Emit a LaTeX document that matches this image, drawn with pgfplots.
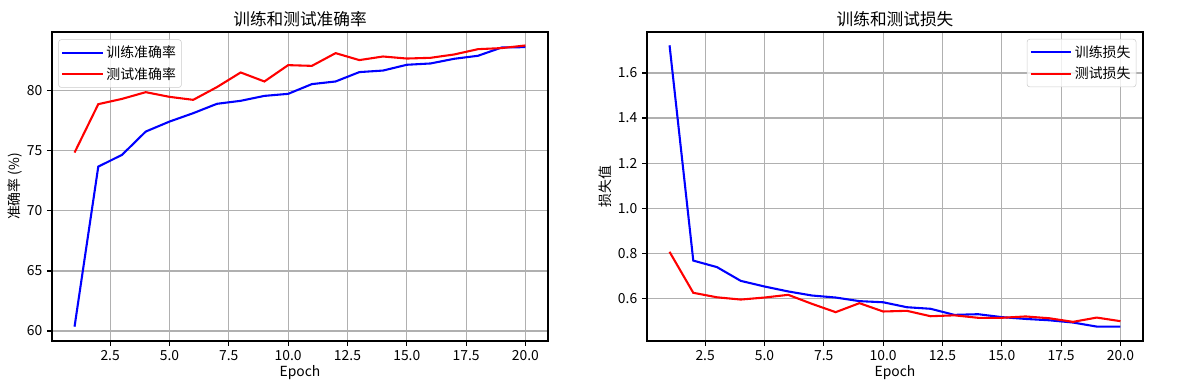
\documentclass[border=0pt]{standalone}
\usepackage{fontspec}
\setmainfont{Noto Sans CJK SC}
\usepackage{pgfplots}
\pgfplotsset{compat=1.18}
\definecolor{gridgray}{RGB}{176,176,176}
\definecolor{legframe}{RGB}{204,204,204}
\pgfplotsset{
  mystyle/.style={
    scale only axis, width=357.12pt, height=222.48pt,
    axis line style={line width=0.8pt},
    grid=major, grid style={color=gridgray, line width=0.8pt},
    tick style={black, line width=0.8pt}, tick align=outside, major tick length=3.5pt,
    tick pos=left,
    xmin=0.05, xmax=20.95,
    xtick={2.5,5,7.5,10,12.5,15,17.5,20},
    xticklabel style={/pgf/number format/.cd, fixed, fixed zerofill, precision=1},
    /pgf/number format/assume math mode=true,
    ticklabel style={font=\fontsize{10}{12}\selectfont},
    label style={font=\fontsize{10}{12}\selectfont},
    every axis title shift=0pt,
    title style={font=\fontsize{12}{14}\selectfont, at={(axis description cs:0.5,1)}, anchor=center, yshift=9.6pt},
    xlabel style={at={(axis description cs:0.5,-0.1034)}, anchor=center},
    legend cell align=left,
    legend style={draw=legframe, rounded corners=2pt, fill=white, fill opacity=0.8, text opacity=1,
      font=\fontsize{10}{12}\selectfont, inner xsep=2pt, inner ysep=2.5pt, row sep=1.5pt},
    legend image code/.code={\path (-1pt,0pt) -- (28pt,0pt); \draw[#1] (0pt,0pt) -- (21pt,0pt);},
    xlabel=Epoch,
    every axis plot/.append style={line width=1.5pt},
  }
}
\begin{document}
\begin{tikzpicture}
\path[use as bounding box] (0,0) rectangle (856.08pt,280.8pt);
\begin{axis}[mystyle, at={(37.44pt,35.28pt)}, anchor=south west,
  title={训练和测试准确率}, ylabel={准确率 (\%)},
  ylabel style={at={(axis description cs:-0.0746,0.5)}, anchor=center},
  ymin=59.17, ymax=84.9, ytick={60,65,70,75,80},
  legend style={at={(0,1)}, anchor=north west, xshift=4.5pt, yshift=-5.3pt}]
\addplot[blue, line width=1.5pt] coordinates {
(1,60.36)(2,73.69)(3,74.67)(4,76.61)(5,77.44)(6,78.14)(7,78.92)(8,79.17)(9,79.58)(10,79.75)
(11,80.56)(12,80.78)(13,81.56)(14,81.69)(15,82.17)(16,82.28)(17,82.67)(18,82.92)(19,83.61)(20,83.64)};
\addlegendentry{训练准确率}
\addplot[red, line width=1.5pt] coordinates {
(1,74.86)(2,78.89)(3,79.33)(4,79.89)(5,79.5)(6,79.25)(7,80.31)(8,81.53)(9,80.78)(10,82.14)
(11,82.08)(12,83.14)(13,82.56)(14,82.86)(15,82.69)(16,82.75)(17,83.03)(18,83.47)(19,83.56)(20,83.78)};
\addlegendentry{测试准确率}
\end{axis}
\begin{axis}[mystyle, at={(465.84pt,35.28pt)}, anchor=south west,
  title={训练和测试损失}, ylabel={损失值},
  ylabel style={at={(axis description cs:-0.0846,0.5)}, anchor=center},
  ymin=0.41, ymax=1.782, ytick={0.6,0.8,1.0,1.2,1.4,1.6},
  yticklabel style={/pgf/number format/.cd, fixed, fixed zerofill, precision=1},
  legend style={at={(1,1)}, anchor=north east, xshift=-4.8pt, yshift=-5pt}]
\addplot[blue, line width=1.5pt] coordinates {
(1,1.723)(2,0.767)(3,0.738)(4,0.677)(5,0.652)(6,0.630)(7,0.612)(8,0.603)(9,0.587)(10,0.582)
(11,0.560)(12,0.553)(13,0.526)(14,0.529)(15,0.516)(16,0.508)(17,0.502)(18,0.492)(19,0.474)(20,0.474)};
\addlegendentry{训练损失}
\addplot[red, line width=1.5pt] coordinates {
(1,0.806)(2,0.624)(3,0.604)(4,0.594)(5,0.603)(6,0.615)(7,0.575)(8,0.538)(9,0.578)(10,0.541)
(11,0.544)(12,0.520)(13,0.524)(14,0.513)(15,0.513)(16,0.519)(17,0.511)(18,0.495)(19,0.514)(20,0.498)};
\addlegendentry{测试损失}
\end{axis}
\end{tikzpicture}
\end{document}
